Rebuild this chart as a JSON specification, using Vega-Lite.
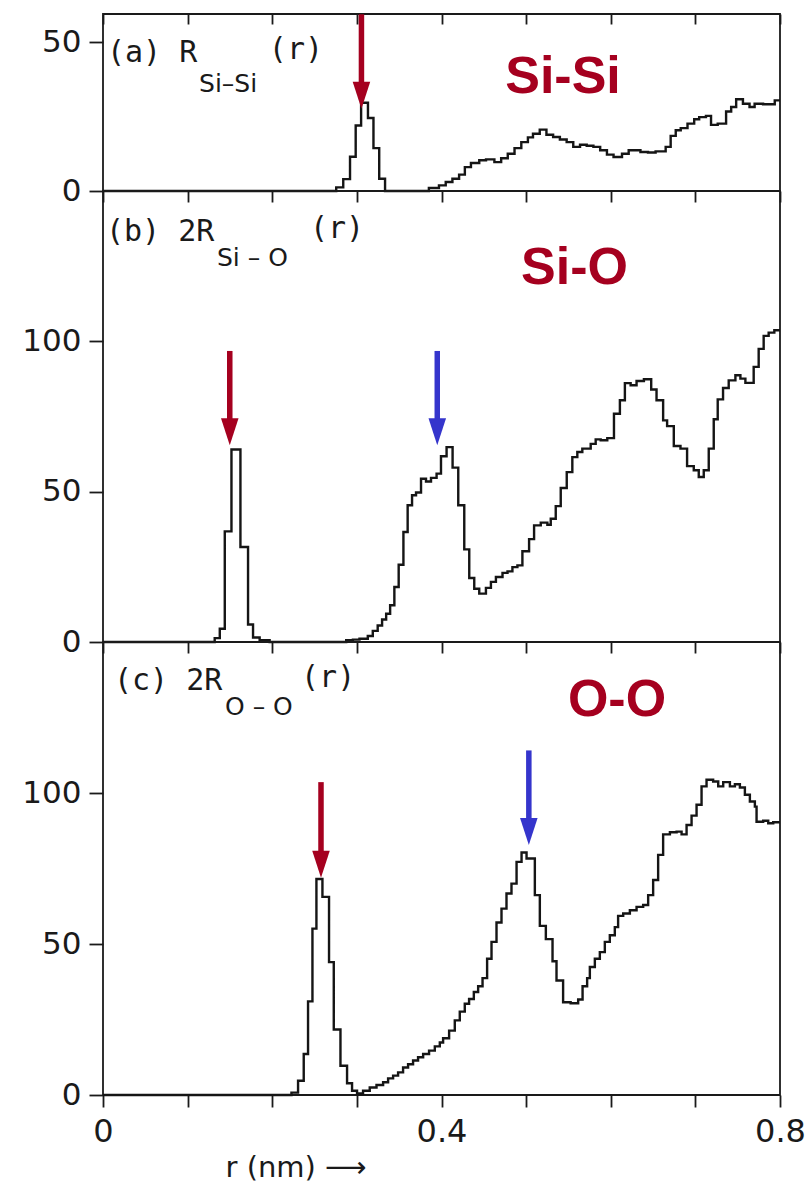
{
  "$schema": "https://vega.github.io/schema/vega-lite/v6.json",
  "background": "white",
  "padding": {"left": 20, "top": 10, "right": 5, "bottom": 4},
  "bounds": "flush",
  "spacing": 0,
  "config": {
    "view": {"stroke": "#1a1a1a", "strokeWidth": 1.8},
    "axis": {
      "grid": false,
      "domain": false,
      "tickColor": "#1a1a1a",
      "tickWidth": 1.8,
      "labelFont": "DejaVu Sans",
      "labelFontSize": 31,
      "labelColor": "#1a1a1a",
      "titleFont": "DejaVu Sans",
      "titleFontSize": 29,
      "titleFontWeight": "normal",
      "titleColor": "#1a1a1a"
    }
  },
  "datasets": {
    "sisi": [
      {"r": 0, "v": 0}, {"r": 0.2756, "v": 1.2}, {"r": 0.2839, "v": 4}, {"r": 0.2919, "v": 11.5},
      {"r": 0.2986, "v": 22}, {"r": 0.305, "v": 29.6}, {"r": 0.3131, "v": 24.5}, {"r": 0.3196, "v": 14.4},
      {"r": 0.3264, "v": 4.1}, {"r": 0.3333, "v": 0}, {"r": 0.3851, "v": 1}, {"r": 0.397, "v": 1.9},
      {"r": 0.405, "v": 3}, {"r": 0.4129, "v": 4.1}, {"r": 0.4208, "v": 5.5}, {"r": 0.4276, "v": 8},
      {"r": 0.4348, "v": 9.4}, {"r": 0.4446, "v": 10.3}, {"r": 0.4526, "v": 10.6}, {"r": 0.4625, "v": 9.7},
      {"r": 0.4705, "v": 11}, {"r": 0.4783, "v": 12.5}, {"r": 0.4863, "v": 14.4}, {"r": 0.4943, "v": 16.4},
      {"r": 0.5021, "v": 18}, {"r": 0.5081, "v": 19.2}, {"r": 0.5161, "v": 20.6}, {"r": 0.524, "v": 18.9},
      {"r": 0.5319, "v": 18.1}, {"r": 0.5399, "v": 17.3}, {"r": 0.5479, "v": 16.4}, {"r": 0.5557, "v": 14.8},
      {"r": 0.5637, "v": 15.5}, {"r": 0.5716, "v": 15.2}, {"r": 0.5795, "v": 14.8}, {"r": 0.5875, "v": 13.7},
      {"r": 0.5955, "v": 12.2}, {"r": 0.6033, "v": 11.4}, {"r": 0.6133, "v": 12.5}, {"r": 0.6212, "v": 13.7},
      {"r": 0.6351, "v": 13.1}, {"r": 0.644, "v": 12.9}, {"r": 0.653, "v": 13.3}, {"r": 0.6649, "v": 14.8},
      {"r": 0.6708, "v": 18.5}, {"r": 0.6768, "v": 20.4}, {"r": 0.6827, "v": 21.1}, {"r": 0.6907, "v": 22.6},
      {"r": 0.6986, "v": 24.1}, {"r": 0.7045, "v": 24.8}, {"r": 0.7125, "v": 25.2}, {"r": 0.7185, "v": 22.2},
      {"r": 0.7264, "v": 22.6}, {"r": 0.7363, "v": 26.7}, {"r": 0.7423, "v": 28.2}, {"r": 0.7482, "v": 30.8},
      {"r": 0.7562, "v": 29.3}, {"r": 0.764, "v": 28.2}, {"r": 0.77, "v": 29.3}, {"r": 0.78, "v": 29.1},
      {"r": 0.7938, "v": 30.4}, {"r": 0.8, "v": 30.4}
    ],
    "sio": [
      {"r": 0, "v": 0}, {"r": 0.132, "v": 1.3}, {"r": 0.138, "v": 4.4}, {"r": 0.1439, "v": 36.8},
      {"r": 0.1518, "v": 64}, {"r": 0.1624, "v": 31.6}, {"r": 0.1714, "v": 5.8}, {"r": 0.1773, "v": 1.5},
      {"r": 0.1851, "v": 0.6}, {"r": 0.1969, "v": 0}, {"r": 0.2874, "v": 0.6}, {"r": 0.2953, "v": 0.8},
      {"r": 0.3031, "v": 1.1}, {"r": 0.3129, "v": 2}, {"r": 0.3188, "v": 3.7}, {"r": 0.3246, "v": 5.5},
      {"r": 0.3298, "v": 7.5}, {"r": 0.3346, "v": 9.4}, {"r": 0.3393, "v": 12.2}, {"r": 0.3443, "v": 18.3},
      {"r": 0.3494, "v": 25.7}, {"r": 0.355, "v": 36.6}, {"r": 0.36, "v": 45.5}, {"r": 0.3652, "v": 48.8},
      {"r": 0.3699, "v": 49.7}, {"r": 0.3758, "v": 54.3}, {"r": 0.3817, "v": 53.4}, {"r": 0.3876, "v": 54.6},
      {"r": 0.3942, "v": 56}, {"r": 0.3994, "v": 61.8}, {"r": 0.406, "v": 64.8}, {"r": 0.4131, "v": 58},
      {"r": 0.4198, "v": 45.5}, {"r": 0.4269, "v": 30.8}, {"r": 0.4328, "v": 21.3}, {"r": 0.4387, "v": 17.7},
      {"r": 0.4446, "v": 16.1}, {"r": 0.4525, "v": 18}, {"r": 0.4584, "v": 20}, {"r": 0.4643, "v": 21.6},
      {"r": 0.4721, "v": 23}, {"r": 0.478, "v": 23.5}, {"r": 0.4838, "v": 24.9}, {"r": 0.4897, "v": 25.5},
      {"r": 0.4956, "v": 30.2}, {"r": 0.5035, "v": 34.2}, {"r": 0.5094, "v": 38.8}, {"r": 0.5173, "v": 39.7},
      {"r": 0.5251, "v": 39}, {"r": 0.5291, "v": 41}, {"r": 0.535, "v": 45.2}, {"r": 0.5409, "v": 51.2},
      {"r": 0.548, "v": 56.5}, {"r": 0.5546, "v": 61.5}, {"r": 0.5605, "v": 63.2}, {"r": 0.5664, "v": 64.3},
      {"r": 0.5763, "v": 65.9}, {"r": 0.5822, "v": 67.4}, {"r": 0.5881, "v": 67.1}, {"r": 0.5959, "v": 67.8},
      {"r": 0.6038, "v": 75.9}, {"r": 0.6108, "v": 80.4}, {"r": 0.6167, "v": 86.1}, {"r": 0.6235, "v": 85.4},
      {"r": 0.6305, "v": 86.8}, {"r": 0.6392, "v": 87.4}, {"r": 0.6478, "v": 84}, {"r": 0.6541, "v": 80.4},
      {"r": 0.6619, "v": 73.7}, {"r": 0.6666, "v": 71.8}, {"r": 0.6745, "v": 65.2}, {"r": 0.6824, "v": 64.3},
      {"r": 0.6902, "v": 58.5}, {"r": 0.6981, "v": 57.1}, {"r": 0.704, "v": 54.9}, {"r": 0.7099, "v": 57.1},
      {"r": 0.7158, "v": 64.3}, {"r": 0.7217, "v": 74.1}, {"r": 0.7264, "v": 80.7}, {"r": 0.7327, "v": 84.5},
      {"r": 0.7394, "v": 87}, {"r": 0.7473, "v": 88.7}, {"r": 0.7532, "v": 87.6}, {"r": 0.7591, "v": 86.2},
      {"r": 0.7689, "v": 91.5}, {"r": 0.7748, "v": 97.5}, {"r": 0.7807, "v": 101.8}, {"r": 0.7866, "v": 102.9},
      {"r": 0.7933, "v": 103.7}, {"r": 0.8, "v": 103.7}
    ],
    "oo": [
      {"r": 0, "v": 0}, {"r": 0.2227, "v": 0.8}, {"r": 0.2305, "v": 4.7}, {"r": 0.2372, "v": 13.6},
      {"r": 0.2423, "v": 31}, {"r": 0.2475, "v": 55.1}, {"r": 0.2522, "v": 71.5}, {"r": 0.2593, "v": 65.6},
      {"r": 0.2671, "v": 44}, {"r": 0.2727, "v": 21.7}, {"r": 0.2806, "v": 9.7}, {"r": 0.2884, "v": 3.9},
      {"r": 0.2943, "v": 1.4}, {"r": 0.3002, "v": 0.5}, {"r": 0.3073, "v": 1.4}, {"r": 0.3152, "v": 2.5},
      {"r": 0.3232, "v": 3.3}, {"r": 0.331, "v": 4.2}, {"r": 0.3369, "v": 5.5}, {"r": 0.3428, "v": 6.4},
      {"r": 0.3487, "v": 7.5}, {"r": 0.3546, "v": 9.1}, {"r": 0.3605, "v": 10.2}, {"r": 0.3664, "v": 11.4},
      {"r": 0.3723, "v": 12.5}, {"r": 0.3783, "v": 13.6}, {"r": 0.3853, "v": 14.7}, {"r": 0.3921, "v": 16.1},
      {"r": 0.398, "v": 17.4}, {"r": 0.4019, "v": 18.8}, {"r": 0.409, "v": 21.3}, {"r": 0.4157, "v": 24.7},
      {"r": 0.4216, "v": 27.6}, {"r": 0.4275, "v": 30.2}, {"r": 0.4326, "v": 31.8}, {"r": 0.4382, "v": 34.1},
      {"r": 0.4433, "v": 36}, {"r": 0.4485, "v": 38.7}, {"r": 0.4539, "v": 45.1}, {"r": 0.4591, "v": 50.7},
      {"r": 0.465, "v": 57.1}, {"r": 0.4709, "v": 61.7}, {"r": 0.4768, "v": 66.7}, {"r": 0.4827, "v": 70},
      {"r": 0.4887, "v": 77.2}, {"r": 0.4946, "v": 80.3}, {"r": 0.5005, "v": 78.3}, {"r": 0.5103, "v": 66.2},
      {"r": 0.5162, "v": 56}, {"r": 0.5233, "v": 51.6}, {"r": 0.5312, "v": 44.3}, {"r": 0.5359, "v": 37.9},
      {"r": 0.5437, "v": 30.7}, {"r": 0.5526, "v": 30.4}, {"r": 0.5615, "v": 31.6}, {"r": 0.5667, "v": 36},
      {"r": 0.5721, "v": 38.7}, {"r": 0.5753, "v": 42.4}, {"r": 0.5812, "v": 45.1}, {"r": 0.5871, "v": 47.3},
      {"r": 0.593, "v": 50.7}, {"r": 0.5989, "v": 52.9}, {"r": 0.6048, "v": 55.6}, {"r": 0.6087, "v": 59.3},
      {"r": 0.6147, "v": 60.1}, {"r": 0.6226, "v": 61.2}, {"r": 0.6305, "v": 62.3}, {"r": 0.6383, "v": 62.9},
      {"r": 0.6442, "v": 66.2}, {"r": 0.6501, "v": 71.2}, {"r": 0.656, "v": 79.5}, {"r": 0.6619, "v": 86.3},
      {"r": 0.6699, "v": 87}, {"r": 0.6778, "v": 87.2}, {"r": 0.6837, "v": 86.3}, {"r": 0.6896, "v": 89.4},
      {"r": 0.6955, "v": 92.5}, {"r": 0.7014, "v": 96.1}, {"r": 0.7073, "v": 102.2}, {"r": 0.7132, "v": 104.4},
      {"r": 0.721, "v": 103.8}, {"r": 0.727, "v": 102.2}, {"r": 0.7329, "v": 103.6}, {"r": 0.7408, "v": 102.2},
      {"r": 0.7467, "v": 102.9}, {"r": 0.7526, "v": 101.8}, {"r": 0.7585, "v": 99.4}, {"r": 0.7644, "v": 97.2},
      {"r": 0.7703, "v": 95.5}, {"r": 0.7723, "v": 90.5}, {"r": 0.7801, "v": 90.8}, {"r": 0.7861, "v": 90},
      {"r": 0.792, "v": 90.3}, {"r": 0.8, "v": 90.3}
    ],
    "arrows": [
      {"panel": "a", "shell": "first", "r": 0.3054, "top": 59.3, "tip": 27.6},
      {"panel": "b", "shell": "first", "r": 0.1498, "top": 96.8, "tip": 65.4},
      {"panel": "b", "shell": "second", "r": 0.395, "top": 96.8, "tip": 65.4},
      {"panel": "c", "shell": "first", "r": 0.2576, "top": 103.6, "tip": 71.9},
      {"panel": "c", "shell": "second", "r": 0.5032, "top": 114.1, "tip": 82.8}
    ],
    "notes": [
      {"panel": "a", "part": "main", "r": 0.0047, "v": 46.3, "label": "(a) R"},
      {"panel": "a", "part": "sub", "r": 0.1135, "v": 35.9, "label": "Si–Si"},
      {"panel": "a", "part": "main", "r": 0.196, "v": 47.3, "label": "(r)"},
      {"panel": "b", "part": "main", "r": 0.0035, "v": 136.5, "label": "(b) 2R"},
      {"panel": "b", "part": "sub", "r": 0.1347, "v": 127.7, "label": "Si – O"},
      {"panel": "b", "part": "main", "r": 0.2446, "v": 137.3, "label": "(r)"},
      {"panel": "c", "part": "main", "r": 0.013, "v": 137.1, "label": "(c) 2R"},
      {"panel": "c", "part": "sub", "r": 0.1442, "v": 128.5, "label": "O – O"},
      {"panel": "c", "part": "main", "r": 0.234, "v": 138.1, "label": "(r)"}
    ],
    "pairs": [
      {"panel": "a", "r": 0.5436, "v": 32.9, "label": "Si-Si"},
      {"panel": "b", "r": 0.5572, "v": 119.2, "label": "Si-O"},
      {"panel": "c", "r": 0.6074, "v": 125.5, "label": "O-O"}
    ]
  },
  "vconcat": [
    {
      "width": 677,
      "height": 177,
      "resolve": {"axis": {"x": "independent"}},
      "layer": [
        {
          "data": {"name": "sisi"},
          "mark": {"type": "line", "interpolate": "step-after", "color": "#151515", "strokeWidth": 2.4},
          "encoding": {
            "x": {"field": "r", "type": "quantitative", "scale": {"domain": [0, 0.8], "nice": false},
                  "axis": {"values": [0, 0.1, 0.2, 0.3, 0.4, 0.5, 0.6, 0.7, 0.8], "labels": false, "tickSize": 11, "title": null}},
            "y": {"field": "v", "type": "quantitative", "scale": {"domain": [0, 59.4], "nice": false},
                  "axis": {"values": [0, 50], "tickSize": 14, "labelPadding": 8, "title": null}}
          }
        },
        {
          "data": {"name": "arrows"},
          "transform": [{"filter": "datum.panel === 'a'"}],
          "mark": {"type": "rule", "strokeWidth": 5.5, "y2Offset": -12},
          "encoding": {
            "x": {"field": "r", "type": "quantitative",
                  "axis": {"orient": "top", "values": [0, 0.1, 0.2, 0.3, 0.4, 0.5, 0.6, 0.7, 0.8], "labels": false, "tickSize": -10, "title": null}},
            "y": {"field": "top", "type": "quantitative", "title": null},
            "y2": {"field": "tip"},
            "color": {"field": "shell", "type": "nominal", "scale": {"domain": ["first", "second"], "range": ["#a5001f", "#3535cc"]}, "legend": null}
          }
        },
        {
          "data": {"name": "arrows"},
          "transform": [{"filter": "datum.panel === 'a'"}],
          "mark": {"type": "point", "shape": "M-0.65,-2L0.65,-2L0,0Z", "filled": true, "size": 729, "opacity": 1, "strokeWidth": 0},
          "encoding": {
            "x": {"field": "r", "type": "quantitative", "axis": null},
            "y": {"field": "tip", "type": "quantitative", "title": null},
            "color": {"field": "shell", "type": "nominal", "scale": {"domain": ["first", "second"], "range": ["#a5001f", "#3535cc"]}, "legend": null}
          }
        },
        {
          "data": {"name": "notes"},
          "transform": [{"filter": "datum.panel === 'a' && datum.part === 'main'"}],
          "mark": {"type": "text", "font": "DejaVu Sans Mono", "fontSize": 30, "align": "left", "baseline": "middle", "color": "#1a1a1a"},
          "encoding": {
            "x": {"field": "r", "type": "quantitative", "axis": null},
            "y": {"field": "v", "type": "quantitative", "title": null},
            "text": {"field": "label"}
          }
        },
        {
          "data": {"name": "notes"},
          "transform": [{"filter": "datum.panel === 'a' && datum.part === 'sub'"}],
          "mark": {"type": "text", "font": "DejaVu Sans", "fontSize": 25, "align": "left", "baseline": "middle", "color": "#1a1a1a"},
          "encoding": {
            "x": {"field": "r", "type": "quantitative", "axis": null},
            "y": {"field": "v", "type": "quantitative", "title": null},
            "text": {"field": "label"}
          }
        },
        {
          "data": {"name": "pairs"},
          "transform": [{"filter": "datum.panel === 'a'"}],
          "mark": {"type": "text", "font": "Liberation Sans", "fontWeight": "bold", "fontSize": 52, "align": "center", "baseline": "alphabetic", "color": "#a5001f"},
          "encoding": {
            "x": {"field": "r", "type": "quantitative", "axis": null},
            "y": {"field": "v", "type": "quantitative", "title": null},
            "text": {"field": "label"}
          }
        }
      ]
    },
    {
      "width": 677,
      "height": 451,
      "resolve": {"axis": {"x": "independent"}},
      "layer": [
        {
          "data": {"name": "sio"},
          "mark": {"type": "line", "interpolate": "step-after", "color": "#151515", "strokeWidth": 2.4},
          "encoding": {
            "x": {"field": "r", "type": "quantitative", "scale": {"domain": [0, 0.8], "nice": false},
                  "axis": {"values": [0, 0.1, 0.2, 0.3, 0.4, 0.5, 0.6, 0.7, 0.8], "labels": false, "tickSize": 11, "title": null}},
            "y": {"field": "v", "type": "quantitative", "scale": {"domain": [0, 150], "nice": false},
                  "axis": {"values": [0, 50, 100], "tickSize": 14, "labelPadding": 8, "title": null}}
          }
        },
        {
          "data": {"name": "arrows"},
          "transform": [{"filter": "datum.panel === 'b'"}],
          "mark": {"type": "rule", "strokeWidth": 5.5, "y2Offset": -12},
          "encoding": {
            "x": {"field": "r", "type": "quantitative", "axis": null},
            "y": {"field": "top", "type": "quantitative", "title": null},
            "y2": {"field": "tip"},
            "color": {"field": "shell", "type": "nominal", "scale": {"domain": ["first", "second"], "range": ["#a5001f", "#3535cc"]}, "legend": null}
          }
        },
        {
          "data": {"name": "arrows"},
          "transform": [{"filter": "datum.panel === 'b'"}],
          "mark": {"type": "point", "shape": "M-0.65,-2L0.65,-2L0,0Z", "filled": true, "size": 729, "opacity": 1, "strokeWidth": 0},
          "encoding": {
            "x": {"field": "r", "type": "quantitative", "axis": null},
            "y": {"field": "tip", "type": "quantitative", "title": null},
            "color": {"field": "shell", "type": "nominal", "scale": {"domain": ["first", "second"], "range": ["#a5001f", "#3535cc"]}, "legend": null}
          }
        },
        {
          "data": {"name": "notes"},
          "transform": [{"filter": "datum.panel === 'b' && datum.part === 'main'"}],
          "mark": {"type": "text", "font": "DejaVu Sans Mono", "fontSize": 30, "align": "left", "baseline": "middle", "color": "#1a1a1a"},
          "encoding": {
            "x": {"field": "r", "type": "quantitative", "axis": null},
            "y": {"field": "v", "type": "quantitative", "title": null},
            "text": {"field": "label"}
          }
        },
        {
          "data": {"name": "notes"},
          "transform": [{"filter": "datum.panel === 'b' && datum.part === 'sub'"}],
          "mark": {"type": "text", "font": "DejaVu Sans", "fontSize": 25, "align": "left", "baseline": "middle", "color": "#1a1a1a"},
          "encoding": {
            "x": {"field": "r", "type": "quantitative", "axis": null},
            "y": {"field": "v", "type": "quantitative", "title": null},
            "text": {"field": "label"}
          }
        },
        {
          "data": {"name": "pairs"},
          "transform": [{"filter": "datum.panel === 'b'"}],
          "mark": {"type": "text", "font": "Liberation Sans", "fontWeight": "bold", "fontSize": 52, "align": "center", "baseline": "alphabetic", "color": "#a5001f"},
          "encoding": {
            "x": {"field": "r", "type": "quantitative", "axis": null},
            "y": {"field": "v", "type": "quantitative", "title": null},
            "text": {"field": "label"}
          }
        }
      ]
    },
    {
      "width": 677,
      "height": 453,
      "resolve": {"axis": {"x": "independent"}},
      "layer": [
        {
          "data": {"name": "oo"},
          "mark": {"type": "line", "interpolate": "step-after", "color": "#151515", "strokeWidth": 2.4},
          "encoding": {
            "x": {"field": "r", "type": "quantitative", "scale": {"domain": [0, 0.8], "nice": false},
                  "axis": {
                    "values": [0, 0.1, 0.2, 0.3, 0.4, 0.5, 0.6, 0.7, 0.8],
                    "tickSize": 12,
                    "labelPadding": 9,
                    "labelFontSize": 32,
                    "labelOverlap": false,
                    "labelFlush": false,
                    "labelBound": false,
                    "labelExpr": "datum.value === 0 ? '0' : (datum.value === 0.4 || datum.value === 0.8) ? format(datum.value, '.1f') : ''",
                    "title": "r (nm) ⟶",
                    "titleAnchor": "start",
                    "titleAlign": "left",
                    "titleBaseline": "middle",
                    "titleX": 122,
                    "titleY": 72
                  }},
            "y": {"field": "v", "type": "quantitative", "scale": {"domain": [0, 150], "nice": false},
                  "axis": {"values": [0, 50, 100], "tickSize": 14, "labelPadding": 8, "title": null}}
          }
        },
        {
          "data": {"name": "arrows"},
          "transform": [{"filter": "datum.panel === 'c'"}],
          "mark": {"type": "rule", "strokeWidth": 5.5, "y2Offset": -12},
          "encoding": {
            "x": {"field": "r", "type": "quantitative", "axis": null},
            "y": {"field": "top", "type": "quantitative", "title": null},
            "y2": {"field": "tip"},
            "color": {"field": "shell", "type": "nominal", "scale": {"domain": ["first", "second"], "range": ["#a5001f", "#3535cc"]}, "legend": null}
          }
        },
        {
          "data": {"name": "arrows"},
          "transform": [{"filter": "datum.panel === 'c'"}],
          "mark": {"type": "point", "shape": "M-0.65,-2L0.65,-2L0,0Z", "filled": true, "size": 729, "opacity": 1, "strokeWidth": 0},
          "encoding": {
            "x": {"field": "r", "type": "quantitative", "axis": null},
            "y": {"field": "tip", "type": "quantitative", "title": null},
            "color": {"field": "shell", "type": "nominal", "scale": {"domain": ["first", "second"], "range": ["#a5001f", "#3535cc"]}, "legend": null}
          }
        },
        {
          "data": {"name": "notes"},
          "transform": [{"filter": "datum.panel === 'c' && datum.part === 'main'"}],
          "mark": {"type": "text", "font": "DejaVu Sans Mono", "fontSize": 30, "align": "left", "baseline": "middle", "color": "#1a1a1a"},
          "encoding": {
            "x": {"field": "r", "type": "quantitative", "axis": null},
            "y": {"field": "v", "type": "quantitative", "title": null},
            "text": {"field": "label"}
          }
        },
        {
          "data": {"name": "notes"},
          "transform": [{"filter": "datum.panel === 'c' && datum.part === 'sub'"}],
          "mark": {"type": "text", "font": "DejaVu Sans", "fontSize": 25, "align": "left", "baseline": "middle", "color": "#1a1a1a"},
          "encoding": {
            "x": {"field": "r", "type": "quantitative", "axis": null},
            "y": {"field": "v", "type": "quantitative", "title": null},
            "text": {"field": "label"}
          }
        },
        {
          "data": {"name": "pairs"},
          "transform": [{"filter": "datum.panel === 'c'"}],
          "mark": {"type": "text", "font": "Liberation Sans", "fontWeight": "bold", "fontSize": 52, "align": "center", "baseline": "alphabetic", "color": "#a5001f"},
          "encoding": {
            "x": {"field": "r", "type": "quantitative", "axis": null},
            "y": {"field": "v", "type": "quantitative", "title": null},
            "text": {"field": "label"}
          }
        }
      ]
    }
  ]
}
